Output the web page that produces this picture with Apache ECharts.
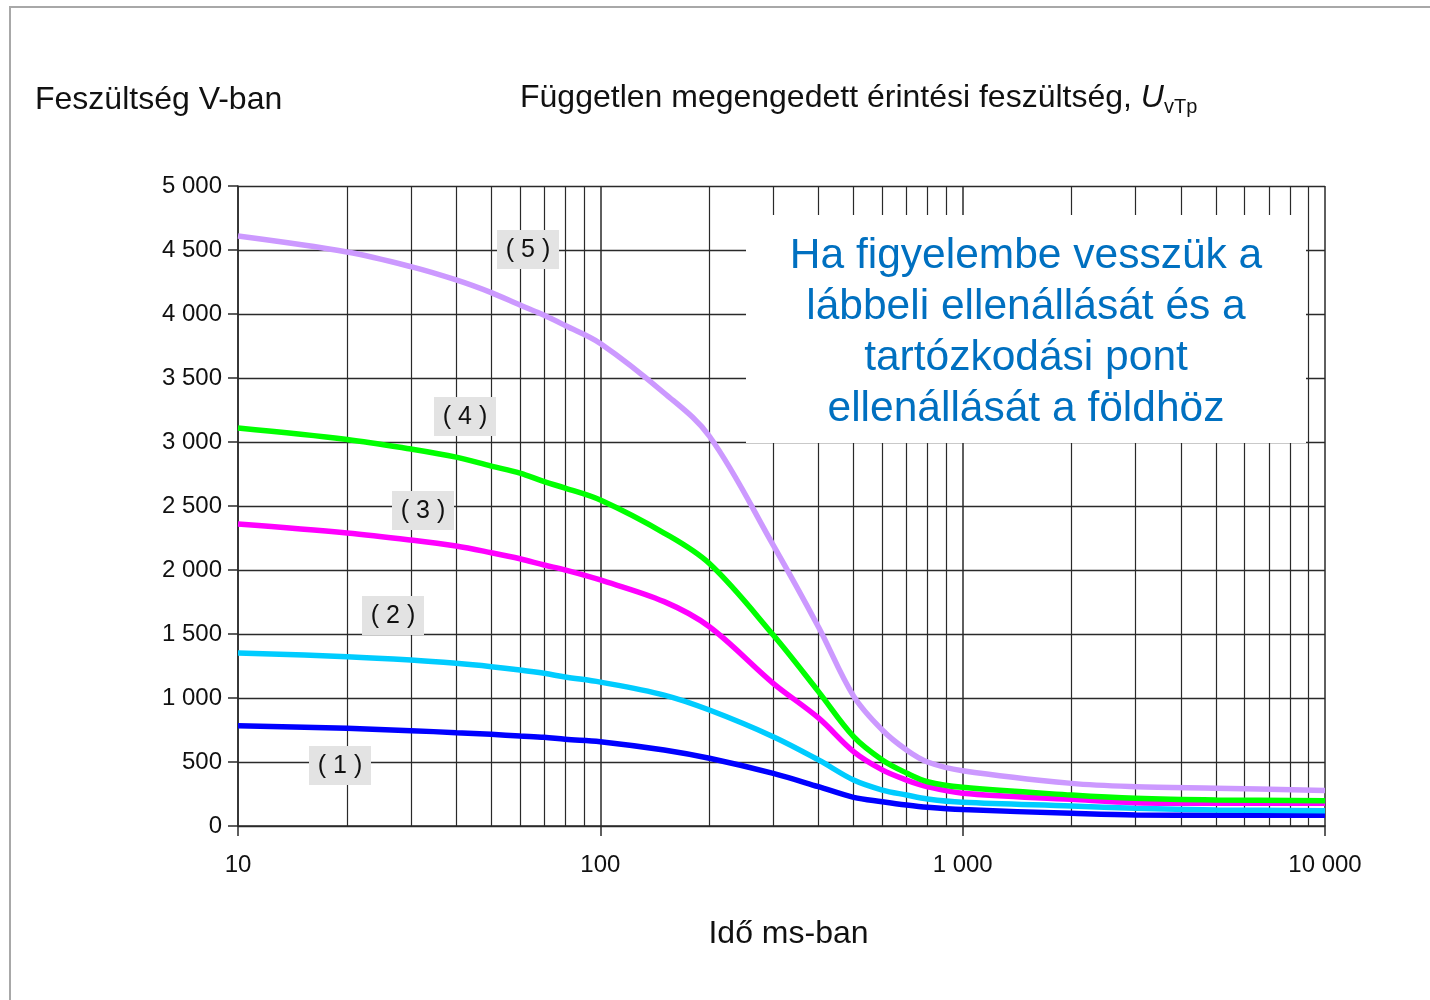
<!DOCTYPE html>
<html>
<head>
<meta charset="utf-8">
<script src="https://cdn.jsdelivr.net/npm/echarts@6/dist/echarts.min.js"></script>
<style>
html,body{margin:0;padding:0;background:#fff;}
#chart{width:1430px;height:1000px;}
</style>
</head>
<body>
<div id="chart"></div>
<script>
// Time values (ms) at which the curves were read
const times = [10, 20, 30, 40, 50, 60, 70, 80, 100, 150, 200, 300, 400, 500, 600, 700, 800, 1000, 2000, 3000, 5000, 10000];
// Voltage (V) for each curve
const curve1 = [783, 763, 745, 729, 716, 703, 693, 677, 659, 594, 529, 411, 307, 224, 190, 164, 146, 128, 99, 86, 84, 84];
const curve2 = [1352, 1323, 1297, 1271, 1245, 1219, 1193, 1164, 1124, 1023, 906, 698, 516, 359, 281, 242, 211, 185, 156, 138, 125, 120];
const curve3 = [2359, 2289, 2234, 2187, 2135, 2088, 2039, 2000, 1922, 1753, 1557, 1115, 844, 581, 438, 359, 307, 256, 208, 182, 177, 177];
const curve4 = [3109, 3020, 2945, 2882, 2812, 2757, 2690, 2640, 2547, 2289, 2050, 1492, 1050, 698, 516, 414, 346, 302, 242, 216, 203, 198];
const curve5 = [4609, 4484, 4370, 4266, 4167, 4070, 3990, 3910, 3770, 3383, 3045, 2195, 1555, 1015, 750, 594, 500, 432, 333, 307, 295, 278];
const curveNames = ['( 1 )', '( 2 )', '( 3 )', '( 4 )', '( 5 )'];
const curveColors = ['#0000FF', '#00CCFF', '#FF00FF', '#00FF00', '#CC99FF'];
// minor vertical grid lines of the log axis
const minorTimes = [20, 30, 40, 50, 60, 70, 80, 90, 200, 300, 400, 500, 600, 700, 800, 900, 2000, 3000, 4000, 5000, 6000, 7000, 8000, 9000];
const yTicks = { min: 0, max: 5000, interval: 500 };
const xRange = { min: 10, max: 10000 };
const boxLines = ['Ha figyelembe vesszük a', 'lábbeli ellenállását és a', 'tartózkodási pont', 'ellenállását a földhöz'];

const FONT = '"Liberation Sans", Arial, sans-serif';
function fmt(v) { return String(Math.round(v)).replace(/\B(?=(\d{3})+(?!\d))/g, ' '); }

const chart = echarts.init(document.getElementById('chart'), null, { renderer: 'canvas' });

const allCurves = [curve1, curve2, curve3, curve4, curve5];
const series = allCurves.map((c, i) => ({
  name: curveNames[i],
  type: 'line',
  data: times.map((t, j) => [t, c[j]]),
  smooth: 0.35,
  showSymbol: false,
  symbol: 'none',
  z: 3,
  lineStyle: { color: curveColors[i], width: 5.5 },
  itemStyle: { color: curveColors[i] }
}));
series.unshift({
  type: 'line',
  data: [],
  silent: true,
  z: 1,
  markLine: {
    silent: true,
    z: 1,
    symbol: ['none', 'none'],
    animation: false,
    label: { show: false },
    emphasis: { disabled: true },
    lineStyle: { color: '#2a2a2a', width: 1.2, type: 'solid' },
    data: minorTimes.map(v => ({ xAxis: v }))
  }
});

// annotation label boxes
const labelBoxes = [
  { t: '( 1 )', cx: 340, cy: 766 },
  { t: '( 2 )', cx: 393, cy: 616 },
  { t: '( 3 )', cx: 423, cy: 511 },
  { t: '( 4 )', cx: 465, cy: 417 },
  { t: '( 5 )', cx: 528, cy: 250 }
];
const graphics = [
  { type: 'rect', z: 0, silent: true, shape: { x: 10, y: 7, width: 1440, height: 1010 }, style: { fill: 'none', stroke: '#a8a8a8', lineWidth: 2 } },
  { type: 'text', left: 35, top: 84, z: 10, style: { text: 'Feszültség V-ban', font: '32px ' + FONT, fill: '#111' } },
  { type: 'text', left: 520, top: 82, z: 10, style: {
      text: '{a|Független megengedett érintési feszültség, }{u|U}{s|vTp}',
      rich: {
        a: { fontSize: 32, fontFamily: FONT, fill: '#111', lineHeight: 38 },
        u: { fontSize: 32, fontFamily: FONT, fontStyle: 'italic', fill: '#111', lineHeight: 38 },
        s: { fontSize: 20, fontFamily: FONT, fill: '#111', lineHeight: 38, verticalAlign: 'bottom', padding: [12, 0, 0, 0] }
      }
  } },
  { type: 'rect', z: 5, silent: true, shape: { x: 746, y: 215, width: 560, height: 228 }, style: { fill: '#fff' } }
];
boxLines.forEach((l, i) => {
  graphics.push({ type: 'text', z: 6, x: 1026, y: 256 + i * 51, style: { text: l, font: '42.5px ' + FONT, fill: '#0070C0', textAlign: 'center', textVerticalAlign: 'middle' } });
});
labelBoxes.forEach(b => {
  graphics.push({ type: 'rect', z: 6, shape: { x: b.cx - 31, y: b.cy - 20, width: 62, height: 39 }, style: { fill: '#E3E3E3' } });
  graphics.push({ type: 'text', z: 7, x: b.cx, y: b.cy, style: { text: b.t, font: '25px ' + FONT, fill: '#111', textAlign: 'center', textVerticalAlign: 'middle' } });
});

chart.setOption({
  animation: false,
  backgroundColor: '#fff',
  grid: { left: 238, right: 105, top: 186, bottom: 174, containLabel: false, show: false },
  xAxis: {
    type: 'log', logBase: 10, min: xRange.min, max: xRange.max,
    name: 'Idő ms-ban', nameLocation: 'middle', nameGap: 92,
    nameTextStyle: { fontSize: 32, fontFamily: FONT, color: '#111', padding: [0, 0, 0, 14] },
    axisLine: { show: true, onZero: false, lineStyle: { color: '#2a2a2a', width: 1.5 } },
    axisTick: { show: true, length: 10, lineStyle: { color: '#2a2a2a', width: 1.5 } },
    axisLabel: { fontSize: 24, fontFamily: FONT, color: '#111', margin: 27, formatter: v => fmt(v) },
    splitLine: { show: true, lineStyle: { color: '#2a2a2a', width: 1.5 } },
    minorTick: { show: false }, minorSplitLine: { show: false }
  },
  yAxis: {
    type: 'value', min: yTicks.min, max: yTicks.max, interval: yTicks.interval,
    axisLine: { show: true, lineStyle: { color: '#2a2a2a', width: 1.5 } },
    axisTick: { show: true, length: 10, lineStyle: { color: '#2a2a2a', width: 1.5 } },
    axisLabel: { fontSize: 24, fontFamily: FONT, color: '#111', margin: 16, formatter: v => fmt(v) },
    splitLine: { show: true, lineStyle: { color: '#2a2a2a', width: 1.3 } }
  },
  series: series,
  graphic: graphics
});
</script>
</body>
</html>
